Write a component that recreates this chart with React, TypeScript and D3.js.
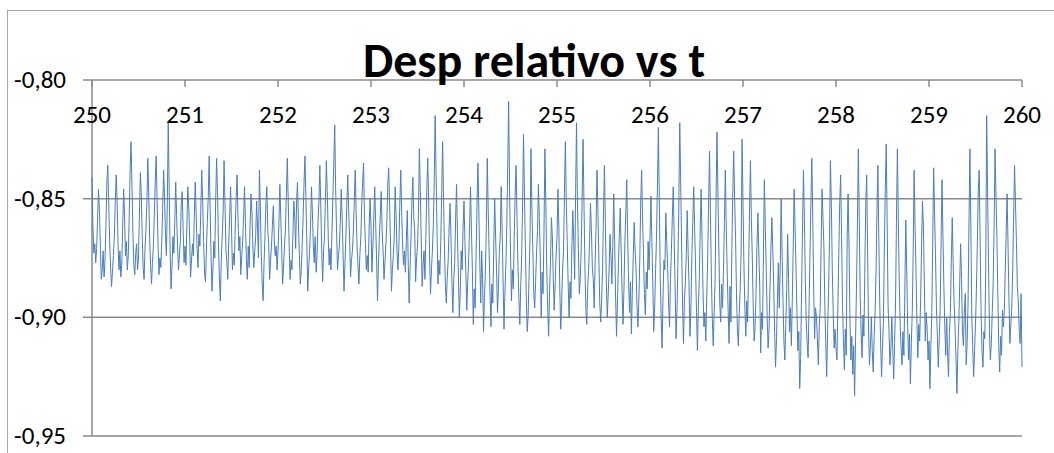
import React from 'react';
import * as d3 from 'd3';

// Sampling of the time axis (s)
const T_START = 250;
const T_STEP = 0.01;

// Relative displacement, one row per 0.2 s
const DESP = [
  -0.841, -0.862, -0.873, -0.869, -0.877, -0.871, -0.858, -0.846, -0.855, -0.870, -0.884, -0.880, -0.872, -0.883, -0.876, -0.861, -0.843, -0.836, -0.852, -0.868,
  -0.879, -0.887, -0.881, -0.874, -0.866, -0.852, -0.840, -0.851, -0.869, -0.880, -0.872, -0.883, -0.878, -0.862, -0.846, -0.857, -0.874, -0.868, -0.880, -0.874,
  -0.858, -0.838, -0.826, -0.845, -0.864, -0.878, -0.882, -0.873, -0.869, -0.880, -0.875, -0.856, -0.839, -0.848, -0.866, -0.879, -0.884, -0.871, -0.863, -0.852,
  -0.833, -0.848, -0.867, -0.878, -0.886, -0.877, -0.870, -0.857, -0.843, -0.832, -0.851, -0.869, -0.882, -0.875, -0.879, -0.868, -0.854, -0.838, -0.849, -0.866,
  -0.874, -0.851, -0.818, -0.846, -0.872, -0.888, -0.879, -0.866, -0.873, -0.860, -0.843, -0.857, -0.870, -0.880, -0.874, -0.868, -0.852, -0.847, -0.863, -0.877,
  -0.870, -0.878, -0.862, -0.845, -0.853, -0.866, -0.883, -0.876, -0.869, -0.874, -0.858, -0.843, -0.857, -0.871, -0.879, -0.865, -0.870, -0.855, -0.838, -0.851,
  -0.868, -0.881, -0.885, -0.872, -0.860, -0.849, -0.832, -0.854, -0.874, -0.889, -0.880, -0.868, -0.875, -0.850, -0.833, -0.848, -0.869, -0.884, -0.893, -0.876,
  -0.866, -0.856, -0.834, -0.852, -0.871, -0.877, -0.884, -0.869, -0.858, -0.845, -0.862, -0.880, -0.873, -0.878, -0.862, -0.850, -0.840, -0.858, -0.872, -0.866,
  -0.882, -0.874, -0.868, -0.858, -0.845, -0.860, -0.876, -0.884, -0.870, -0.879, -0.861, -0.848, -0.856, -0.870, -0.879, -0.872, -0.866, -0.851, -0.862, -0.875,
  -0.838, -0.853, -0.873, -0.886, -0.893, -0.877, -0.866, -0.852, -0.845, -0.863, -0.869, -0.884, -0.876, -0.870, -0.861, -0.853, -0.867, -0.874, -0.870, -0.880,
  -0.872, -0.860, -0.844, -0.858, -0.872, -0.886, -0.878, -0.870, -0.863, -0.848, -0.833, -0.851, -0.870, -0.884, -0.876, -0.880, -0.866, -0.851, -0.858, -0.871,
  -0.851, -0.843, -0.861, -0.874, -0.886, -0.880, -0.870, -0.858, -0.843, -0.832, -0.850, -0.868, -0.889, -0.879, -0.872, -0.861, -0.845, -0.856, -0.870, -0.877,
  -0.866, -0.881, -0.874, -0.860, -0.851, -0.836, -0.853, -0.871, -0.885, -0.872, -0.866, -0.850, -0.834, -0.847, -0.866, -0.878, -0.871, -0.880, -0.864, -0.849,
  -0.835, -0.819, -0.846, -0.864, -0.880, -0.874, -0.870, -0.860, -0.846, -0.858, -0.874, -0.889, -0.877, -0.866, -0.852, -0.840, -0.855, -0.867, -0.883, -0.876,
  -0.872, -0.864, -0.852, -0.838, -0.855, -0.870, -0.878, -0.886, -0.874, -0.867, -0.853, -0.843, -0.835, -0.858, -0.869, -0.880, -0.874, -0.881, -0.862, -0.850,
  -0.862, -0.881, -0.870, -0.858, -0.845, -0.860, -0.876, -0.893, -0.878, -0.866, -0.857, -0.847, -0.864, -0.872, -0.884, -0.877, -0.869, -0.861, -0.844, -0.837,
  -0.852, -0.869, -0.889, -0.880, -0.874, -0.866, -0.845, -0.858, -0.873, -0.880, -0.869, -0.852, -0.838, -0.856, -0.870, -0.878, -0.872, -0.881, -0.868, -0.855,
  -0.876, -0.894, -0.880, -0.866, -0.851, -0.841, -0.858, -0.864, -0.885, -0.875, -0.870, -0.857, -0.829, -0.846, -0.867, -0.887, -0.878, -0.872, -0.884, -0.866,
  -0.846, -0.833, -0.851, -0.875, -0.890, -0.880, -0.872, -0.861, -0.843, -0.815, -0.840, -0.864, -0.886, -0.876, -0.882, -0.868, -0.848, -0.826, -0.850, -0.871,
  -0.887, -0.894, -0.883, -0.876, -0.862, -0.852, -0.866, -0.885, -0.898, -0.884, -0.877, -0.858, -0.844, -0.866, -0.883, -0.900, -0.889, -0.872, -0.880, -0.862,
  -0.851, -0.868, -0.881, -0.897, -0.885, -0.876, -0.862, -0.845, -0.863, -0.880, -0.903, -0.888, -0.896, -0.874, -0.852, -0.835, -0.856, -0.877, -0.894, -0.872,
  -0.884, -0.906, -0.892, -0.880, -0.862, -0.833, -0.854, -0.872, -0.890, -0.904, -0.886, -0.894, -0.870, -0.850, -0.866, -0.880, -0.898, -0.888, -0.872, -0.866,
  -0.845, -0.863, -0.884, -0.905, -0.890, -0.878, -0.862, -0.836, -0.809, -0.845, -0.872, -0.893, -0.880, -0.888, -0.866, -0.848, -0.836, -0.858, -0.878, -0.892,
  -0.903, -0.887, -0.874, -0.852, -0.823, -0.848, -0.870, -0.892, -0.906, -0.899, -0.882, -0.866, -0.829, -0.853, -0.871, -0.890, -0.896, -0.885, -0.873, -0.864,
  -0.844, -0.858, -0.875, -0.900, -0.881, -0.890, -0.864, -0.829, -0.852, -0.880, -0.896, -0.908, -0.889, -0.877, -0.858, -0.866, -0.884, -0.897, -0.886, -0.874,
  -0.866, -0.846, -0.862, -0.888, -0.905, -0.894, -0.880, -0.872, -0.848, -0.826, -0.852, -0.868, -0.886, -0.900, -0.885, -0.892, -0.870, -0.855, -0.868, -0.884,
  -0.848, -0.818, -0.852, -0.871, -0.890, -0.884, -0.872, -0.850, -0.825, -0.852, -0.878, -0.896, -0.903, -0.887, -0.880, -0.868, -0.852, -0.863, -0.879, -0.884,
  -0.896, -0.877, -0.862, -0.838, -0.855, -0.875, -0.894, -0.902, -0.893, -0.880, -0.856, -0.836, -0.860, -0.884, -0.900, -0.891, -0.880, -0.865, -0.874, -0.886,
  -0.870, -0.848, -0.868, -0.891, -0.908, -0.894, -0.878, -0.866, -0.854, -0.872, -0.890, -0.903, -0.888, -0.868, -0.856, -0.842, -0.866, -0.885, -0.898, -0.885,
  -0.907, -0.889, -0.874, -0.860, -0.872, -0.880, -0.895, -0.904, -0.893, -0.876, -0.852, -0.838, -0.858, -0.873, -0.890, -0.899, -0.881, -0.888, -0.868, -0.880,
  -0.866, -0.849, -0.868, -0.885, -0.906, -0.896, -0.880, -0.866, -0.844, -0.820, -0.850, -0.882, -0.900, -0.913, -0.891, -0.876, -0.880, -0.856, -0.868, -0.879,
  -0.894, -0.904, -0.884, -0.872, -0.858, -0.845, -0.866, -0.888, -0.909, -0.897, -0.877, -0.853, -0.818, -0.843, -0.870, -0.894, -0.911, -0.893, -0.886, -0.874,
  -0.855, -0.872, -0.887, -0.908, -0.896, -0.874, -0.860, -0.845, -0.862, -0.879, -0.898, -0.914, -0.895, -0.884, -0.862, -0.846, -0.868, -0.889, -0.904, -0.898,
  -0.910, -0.892, -0.876, -0.852, -0.830, -0.856, -0.883, -0.901, -0.912, -0.898, -0.884, -0.852, -0.822, -0.846, -0.870, -0.894, -0.902, -0.886, -0.896, -0.880,
  -0.860, -0.838, -0.862, -0.880, -0.897, -0.911, -0.887, -0.902, -0.872, -0.848, -0.830, -0.850, -0.866, -0.890, -0.905, -0.912, -0.898, -0.888, -0.872, -0.825,
  -0.852, -0.878, -0.896, -0.908, -0.893, -0.902, -0.880, -0.856, -0.834, -0.858, -0.875, -0.896, -0.910, -0.904, -0.890, -0.870, -0.856, -0.872, -0.887, -0.915,
  -0.898, -0.905, -0.872, -0.842, -0.862, -0.880, -0.900, -0.913, -0.905, -0.888, -0.872, -0.858, -0.871, -0.886, -0.906, -0.921, -0.910, -0.893, -0.877, -0.896,
  -0.880, -0.850, -0.872, -0.893, -0.910, -0.918, -0.903, -0.888, -0.865, -0.884, -0.906, -0.896, -0.912, -0.893, -0.870, -0.846, -0.862, -0.879, -0.898, -0.914,
  -0.906, -0.930, -0.917, -0.889, -0.862, -0.838, -0.858, -0.884, -0.902, -0.911, -0.917, -0.896, -0.874, -0.852, -0.833, -0.858, -0.888, -0.909, -0.896, -0.900,
  -0.909, -0.920, -0.904, -0.896, -0.870, -0.846, -0.858, -0.870, -0.895, -0.911, -0.925, -0.906, -0.889, -0.868, -0.834, -0.852, -0.880, -0.898, -0.913, -0.905,
  -0.913, -0.918, -0.896, -0.873, -0.852, -0.840, -0.866, -0.894, -0.910, -0.922, -0.905, -0.916, -0.866, -0.848, -0.870, -0.900, -0.918, -0.908, -0.924, -0.912,
  -0.933, -0.910, -0.888, -0.862, -0.829, -0.858, -0.890, -0.906, -0.917, -0.899, -0.908, -0.880, -0.852, -0.840, -0.872, -0.906, -0.920, -0.912, -0.900, -0.914,
  -0.923, -0.909, -0.898, -0.882, -0.856, -0.836, -0.866, -0.893, -0.911, -0.925, -0.912, -0.902, -0.870, -0.846, -0.827, -0.860, -0.895, -0.906, -0.920, -0.913,
  -0.900, -0.913, -0.926, -0.911, -0.894, -0.860, -0.829, -0.858, -0.885, -0.903, -0.913, -0.920, -0.906, -0.916, -0.890, -0.859, -0.878, -0.903, -0.918, -0.907,
  -0.928, -0.911, -0.898, -0.872, -0.838, -0.862, -0.880, -0.902, -0.917, -0.903, -0.910, -0.892, -0.870, -0.851, -0.862, -0.886, -0.910, -0.898, -0.905, -0.918,
  -0.910, -0.930, -0.912, -0.899, -0.868, -0.837, -0.856, -0.874, -0.896, -0.908, -0.921, -0.909, -0.897, -0.868, -0.842, -0.866, -0.887, -0.904, -0.916, -0.900,
  -0.916, -0.925, -0.906, -0.898, -0.876, -0.858, -0.878, -0.894, -0.904, -0.917, -0.932, -0.915, -0.903, -0.886, -0.869, -0.884, -0.906, -0.912, -0.898, -0.890,
  -0.920, -0.911, -0.894, -0.860, -0.829, -0.862, -0.899, -0.912, -0.925, -0.914, -0.903, -0.888, -0.868, -0.846, -0.838, -0.868, -0.898, -0.914, -0.921, -0.906,
  -0.909, -0.880, -0.815, -0.846, -0.877, -0.906, -0.918, -0.911, -0.898, -0.886, -0.862, -0.829, -0.848, -0.866, -0.890, -0.912, -0.923, -0.908, -0.916, -0.897,
  -0.904, -0.897, -0.880, -0.864, -0.848, -0.870, -0.893, -0.911, -0.903, -0.896, -0.880, -0.858, -0.836, -0.852, -0.868, -0.887, -0.893, -0.905, -0.911, -0.890,
  -0.921,
];

const X_TICKS = [250, 251, 252, 253, 254, 255, 256, 257, 258, 259, 260];
const Y_TICKS = [-0.8, -0.85, -0.9, -0.95];
const TITLE = 'Desp relativo vs t';

const W = 1054;
const H = 453;
const FONT = "Carlito, Calibri, Lato, 'Open Sans', sans-serif";
const GRID = '#8a8a8a';

export default function App() {
  const margin = { top: 80, right: 32, bottom: 17, left: 92 };

  const x = d3.scaleLinear().domain([250, 260]).range([margin.left, W - margin.right]);
  const y = d3.scaleLinear().domain([-0.95, -0.8]).range([H - margin.bottom, margin.top]);

  const points = DESP.map((v, i) => [T_START + i * T_STEP, v] as [number, number]);
  const line = d3.line<[number, number]>()
    .x(d => x(d[0]))
    .y(d => y(d[1]));

  const fmt = (v: number) => v.toFixed(2).replace('.', ',');

  return (
    <svg width={W} height={H} style={{ position: 'absolute', left: 0, top: 0, background: '#fff' }}>
      {/* chart area border */}
      <rect x={7.5} y={10.5} width={W + 20} height={H + 20} fill="#fff" stroke="#a6a6a6" strokeWidth={1} />

      {/* gridlines with outside ticks on the left */}
      {Y_TICKS.map(t => (
        <line key={t} x1={x(250) - 9} x2={x(260)} y1={y(t)} y2={y(t)} stroke={GRID} strokeWidth={1.5} />
      ))}
      {/* value axis */}
      <line x1={x(250)} x2={x(250)} y1={y(-0.8)} y2={y(-0.95)} stroke={GRID} strokeWidth={1.5} />

      {/* category axis sits at the top (crosses at -0.80) */}
      {X_TICKS.map(t => (
        <line key={t} x1={x(t)} x2={x(t)} y1={y(-0.8)} y2={y(-0.8) + 7} stroke={GRID} strokeWidth={1.5} />
      ))}

      <path d={line(points) || ''} fill="none" stroke="#4a7ebb" strokeWidth={1} strokeLinejoin="round" />

      {Y_TICKS.map(t => (
        <text key={t} x={66} y={y(t) + 8} textAnchor="end" fontFamily={FONT} fontSize={25} fill="#000">
          {fmt(t)}
        </text>
      ))}
      {X_TICKS.map(t => (
        <text key={t} x={x(t)} y={123} textAnchor="middle" fontFamily={FONT} fontSize={25} fill="#000">
          {t}
        </text>
      ))}

      <text x={534} y={77} textAnchor="middle" fontFamily={FONT} fontSize={48} fontWeight="bold" fill="#000">
        {TITLE}
      </text>
    </svg>
  );
}
